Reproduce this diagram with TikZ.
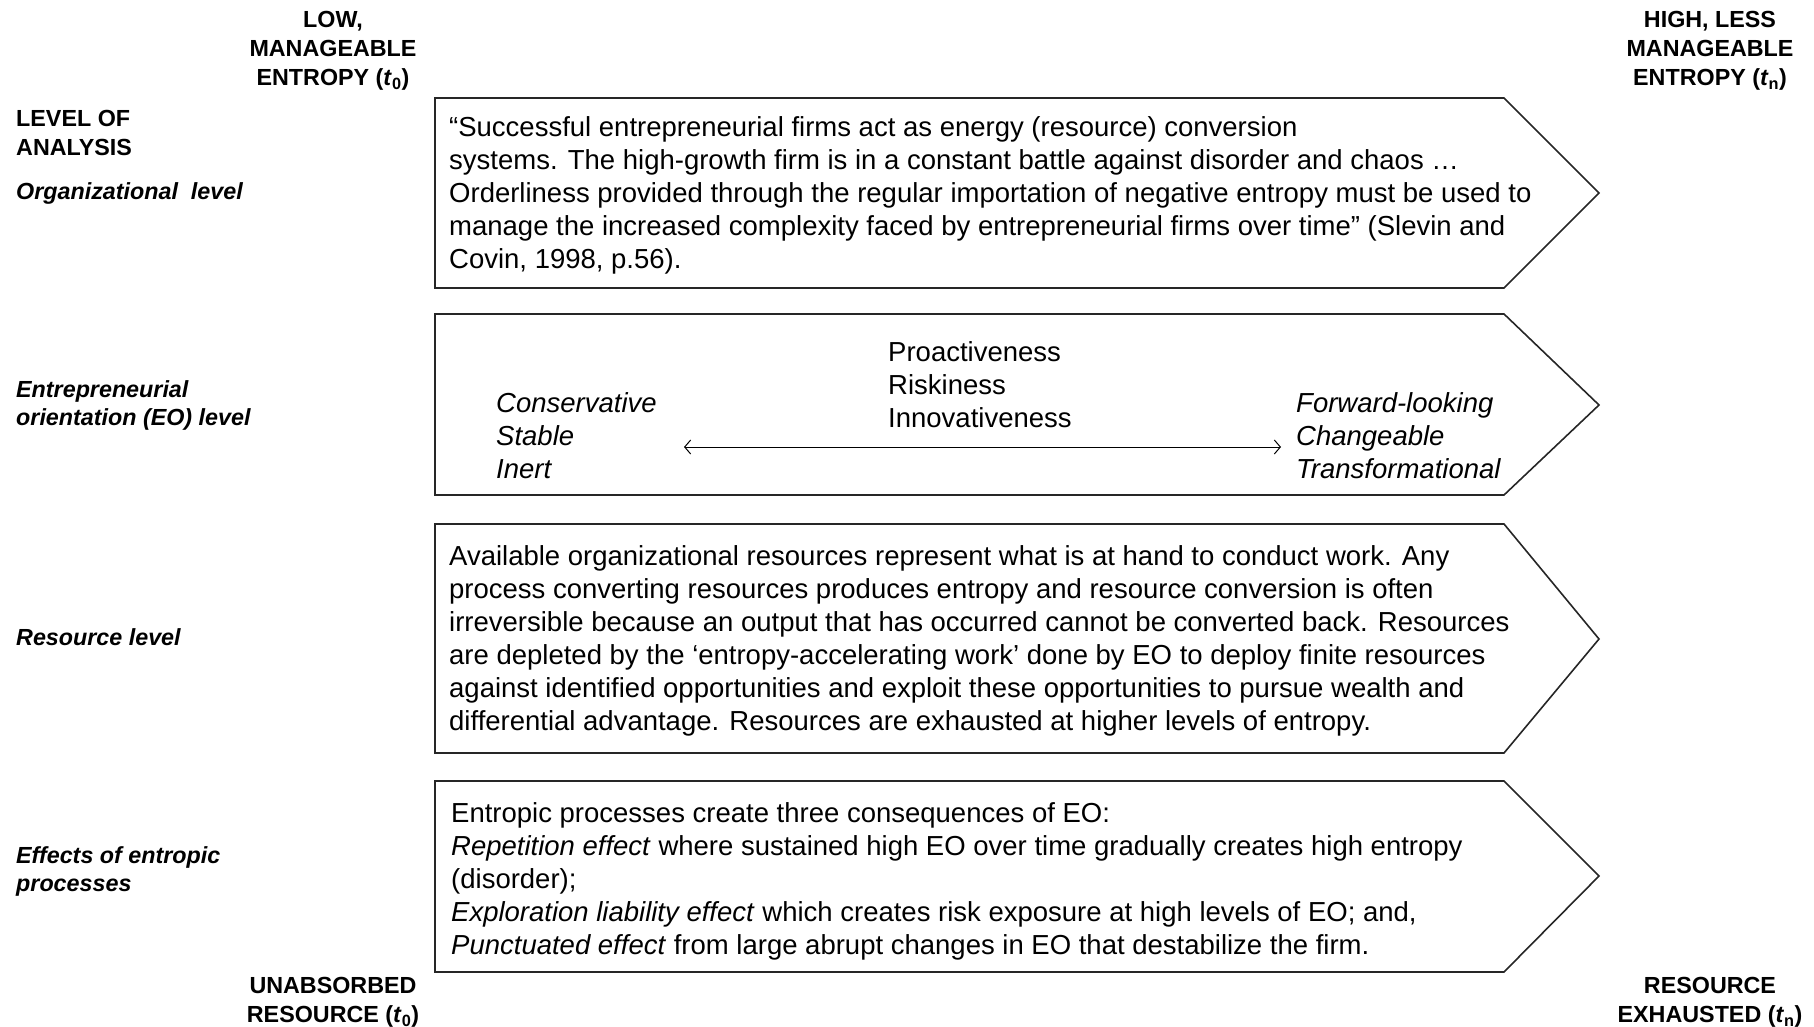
\documentclass[tikz,border=0pt]{standalone}
\usepackage{fontspec}
\setmainfont{Liberation Sans}
\usetikzlibrary{arrows.meta}
\begin{document}
\begin{tikzpicture}[x=1pt,y=-1pt,
 chev/.style={draw=black!85,line width=1.6pt,line join=miter},
 hdr/.style={font=\fontsize{23.3}{29}\selectfont\bfseries,align=center,inner sep=0pt,anchor=north},
 lvl/.style={font=\fontsize{23.3}{28}\selectfont\bfseries\itshape,align=left,anchor=west,inner sep=0pt},
 body/.style={font=\fontsize{27.5}{33}\selectfont,align=left,anchor=north west,inner sep=0pt},
 ital/.style={body,font=\fontsize{27.5}{33}\selectfont\itshape}]
\useasboundingbox (0,0) rectangle (1814,1027);
% headers
\node[hdr] (hTL) at (333,11) {LOW,\\MANAGEABLE\\ENTROPY (\textit{t}\textsubscript{0})};
\node[hdr] (hTR) at (1710,11) {HIGH, LESS\\MANAGEABLE\\ENTROPY (\textit{t}\textsubscript{n})};
\node[hdr] (hBL) at (333,977) {UNABSORBED\\RESOURCE (\textit{t}\textsubscript{0})};
\node[hdr] (hBR) at (1710,977) {RESOURCE\\EXHAUSTED (\textit{t}\textsubscript{n})};
\node[hdr,align=left,anchor=north west] (lvlhead) at (16,110) {LEVEL OF\\ANALYSIS};
% level labels
\node[lvl] (l1) at (16,193) {Organizational\ \ level};
\node[lvl] (l2) at (16,405) {Entrepreneurial\\orientation (EO) level};
\node[lvl] (l3) at (16,637) {Resource level};
\node[lvl] (l4) at (16,871) {Effects of entropic\\processes};
% chevrons
\draw[chev] (435,98) -- (1504,98) -- (1599,193) -- (1504,288) -- (435,288) -- cycle;
\draw[chev] (435,314) -- (1504,314) -- (1599,405) -- (1504,495) -- (435,495) -- cycle;
\draw[chev] (435,524) -- (1504,524) -- (1599,639) -- (1504,753) -- (435,753) -- cycle;
\draw[chev] (435,781) -- (1504,781) -- (1599,876) -- (1504,972) -- (435,972) -- cycle;
% box texts
\node[body] (t1) at (449,116) {“Successful entrepreneurial firms act as energy (resource) conversion\\systems. The high-growth firm is in a constant battle against disorder and chaos …\\Orderliness provided through the regular importation of negative entropy must be used to\\manage the increased complexity faced by entrepreneurial firms over time” (Slevin and\\Covin, 1998, p.56).};
\node[body] (t2m) at (888,341) {Proactiveness\\Riskiness\\Innovativeness};
\node[ital] (t2l) at (496,392) {Conservative\\Stable\\Inert};
\node[ital] (t2r) at (1296,392) {Forward-looking\\Changeable\\Transformational};
\coordinate (aL) at (684,447);
\coordinate (aR) at (1281,447);
\draw[{Straight Barb[length=6pt,width=14pt]}-{Straight Barb[length=6pt,width=14pt]},line width=1pt] (aL) -- (aR);
\node[body] (t3) at (449,545) {Available organizational resources represent what is at hand to conduct work. Any\\process converting resources produces entropy and resource conversion is often\\irreversible because an output that has occurred cannot be converted back. Resources\\are depleted by the ‘entropy-accelerating work’ done by EO to deploy finite resources\\against identified opportunities and exploit these opportunities to pursue wealth and\\differential advantage. Resources are exhausted at higher levels of entropy.};
\node[body] (t4) at (451,802) {Entropic processes create three consequences of EO:\\\textit{Repetition effect} where sustained high EO over time gradually creates high entropy\\(disorder);\\\textit{Exploration liability effect} which creates risk exposure at high levels of EO; and,\\\textit{Punctuated effect} from large abrupt changes in EO that destabilize the firm.};
\end{tikzpicture}
\end{document}
